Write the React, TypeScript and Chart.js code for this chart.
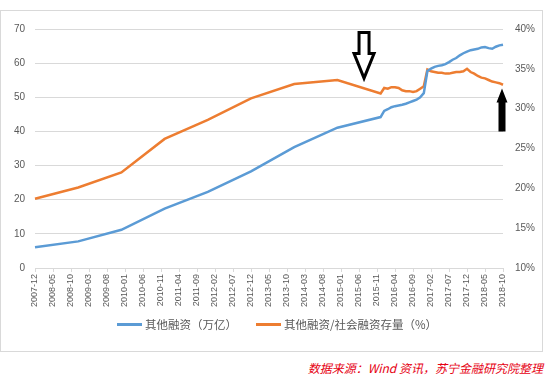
import React, { useEffect, useRef } from 'react';
import { Chart, registerables } from 'chart.js';

Chart.register(...registerables);

// ---- data ----
const firstYear = 2007;
const firstMonth = 12;
const monthCount = 131; // 2007-12 .. 2018-10
const tickEvery = 5;

const pointMonths = [
  '2007-12', '2008-12', '2009-12', '2010-12', '2011-12', '2012-12', '2013-12', '2014-12', '2015-12',
  '2016-01', '2016-02', '2016-03', '2016-04', '2016-05', '2016-06', '2016-07', '2016-08', '2016-09', '2016-10', '2016-11', '2016-12',
  '2017-01', '2017-02', '2017-03', '2017-04', '2017-05', '2017-06', '2017-07', '2017-08', '2017-09', '2017-10', '2017-11', '2017-12',
  '2018-01', '2018-02', '2018-03', '2018-04', '2018-05', '2018-06', '2018-07', '2018-08', '2018-09', '2018-10',
];

const otherFinancing = [
  6.1, 7.8, 11.2, 17.4, 22.3, 28.3, 35.4, 41.1, 44.2,
  46.0, 46.5, 47.1, 47.4, 47.6, 47.8, 48.1, 48.5, 48.9, 49.3, 50.0, 51.2,
  57.7, 58.4, 58.9, 59.2, 59.4, 59.7, 60.3, 61.0, 61.5, 62.3, 62.9, 63.4,
  63.8, 64.0, 64.2, 64.6, 64.7, 64.4, 64.2, 64.8, 65.2, 65.4,
];

const otherShare = [
  18.7, 20.1, 22.0, 26.2, 28.6, 31.3, 33.1, 33.6, 31.9,
  32.6, 32.5, 32.7, 32.7, 32.6, 32.3, 32.2, 32.2, 32.1, 32.2, 32.5, 32.8,
  34.9, 34.7, 34.6, 34.5, 34.5, 34.4, 34.4, 34.5, 34.6, 34.6, 34.7, 35.0,
  34.6, 34.4, 34.1, 33.9, 33.8, 33.6, 33.4, 33.3, 33.2, 33.0,
];

const seriesNames = ['其他融资（万亿）', '其他融资/社会融资存量（%）'];
const seriesColors = ['#5B9BD5', '#ED7D31'];
const leftRange = [0, 70, 10];
const rightRange = [10, 40, 5];
const sourceNote = '数据来源：Wind 资讯，苏宁金融研究院整理';

// ---- derived ----
const categories: string[] = [];
for (let i = 0; i < monthCount; i++) {
  const k = firstMonth - 1 + i;
  const yy = firstYear + Math.floor(k / 12);
  const mm = (k % 12) + 1;
  categories.push(`${yy}-${mm < 10 ? '0' + mm : mm}`);
}
const alignTo = (vals: number[]) =>
  categories.map((c) => {
    const j = pointMonths.indexOf(c);
    return j >= 0 ? vals[j] : null;
  });

const FONT = '"Liberation Sans", "Noto Sans CJK SC", sans-serif';
const CJK = '"Noto Sans CJK SC", "Liberation Sans", sans-serif';

const arrowPlugin = {
  id: 'handArrows',
  afterDatasetsDraw(chart: any) {
    const { ctx } = chart;
    const x = chart.scales.x;
    const y = chart.scales.y;
    ctx.save();
    // hollow down arrow
    const cx = x.getPixelForValue(91.4);
    const top = y.getPixelForValue(69);
    const neck = y.getPixelForValue(62.8);
    const tip = y.getPixelForValue(55.6);
    ctx.beginPath();
    ctx.moveTo(cx - 5, top);
    ctx.lineTo(cx + 5, top);
    ctx.lineTo(cx + 5, neck);
    ctx.lineTo(cx + 10, neck);
    ctx.lineTo(cx, tip);
    ctx.lineTo(cx - 10, neck);
    ctx.lineTo(cx - 5, neck);
    ctx.closePath();
    ctx.fillStyle = '#ffffff';
    ctx.fill();
    ctx.lineWidth = 3;
    ctx.lineJoin = 'miter';
    ctx.strokeStyle = '#000000';
    ctx.stroke();
    // filled up arrow
    const ax = x.getPixelForValue(130) - 1;
    const atip = y.getPixelForValue(52.6);
    const aneck = y.getPixelForValue(48.5);
    const abot = y.getPixelForValue(40);
    ctx.beginPath();
    ctx.moveTo(ax, atip);
    ctx.lineTo(ax + 5.5, aneck);
    ctx.lineTo(ax + 3.5, aneck);
    ctx.lineTo(ax + 3.5, abot);
    ctx.lineTo(ax - 3.5, abot);
    ctx.lineTo(ax - 3.5, aneck);
    ctx.lineTo(ax - 5.5, aneck);
    ctx.closePath();
    ctx.fillStyle = '#000000';
    ctx.fill();
    ctx.restore();
  },
};

export default function App() {
  const ref = useRef<HTMLCanvasElement>(null);

  useEffect(() => {
    const chart = new Chart(ref.current as HTMLCanvasElement, {
      type: 'line',
      data: {
        labels: categories,
        datasets: [
          {
            label: seriesNames[0],
            data: alignTo(otherFinancing),
            borderColor: seriesColors[0],
            backgroundColor: seriesColors[0],
            borderWidth: 2.5,
            pointRadius: 0,
            spanGaps: true,
            yAxisID: 'y',
            tension: 0,
          },
          {
            label: seriesNames[1],
            data: alignTo(otherShare),
            borderColor: seriesColors[1],
            backgroundColor: seriesColors[1],
            borderWidth: 2.5,
            pointRadius: 0,
            spanGaps: true,
            yAxisID: 'y1',
            tension: 0,
          },
        ],
      },
      options: {
        animation: false,
        responsive: true,
        maintainAspectRatio: false,
        layout: { padding: { top: 12, left: 0, right: 0, bottom: 0 } },
        plugins: { legend: { display: false }, tooltip: { enabled: false } },
        scales: {
          x: {
            type: 'category',
            offset: false,
            grid: { display: true, drawOnChartArea: false, drawTicks: true, tickLength: 4, color: '#d9d9d9' },
            border: { display: true, color: '#d9d9d9' },
            ticks: {
              autoSkip: false,
              minRotation: 90,
              maxRotation: 90,
              padding: 2,
              color: '#595959',
              font: { family: FONT, size: 9 },
              callback: (_v: any, i: number) => (i % tickEvery === 0 ? categories[i] : null),
            },
            afterFit: (s: any) => {
              s.height = 83;
            },
          },
          y: {
            position: 'left',
            min: leftRange[0],
            max: leftRange[1],
            grid: { color: '#d9d9d9', drawTicks: false },
            border: { display: false },
            ticks: { stepSize: leftRange[2], padding: 10, color: '#595959', font: { family: FONT, size: 10 } },
            afterFit: (s: any) => {
              s.width = 34;
            },
          },
          y1: {
            position: 'right',
            min: rightRange[0],
            max: rightRange[1],
            grid: { display: false, drawTicks: false },
            border: { display: false },
            ticks: {
              stepSize: rightRange[2],
              padding: 12,
              color: '#595959',
              font: { family: FONT, size: 10 },
              callback: (v: any) => v + '%',
            },
            afterFit: (s: any) => {
              s.width = 39;
            },
          },
        },
      },
      plugins: [arrowPlugin],
    } as any);
    return () => chart.destroy();
  }, []);

  const legendItem = (i: number, left: number) => (
    <div
      style={{
        position: 'absolute',
        left,
        top: 315,
        height: 18,
        display: 'flex',
        alignItems: 'center',
        whiteSpace: 'nowrap',
      }}
    >
      <span style={{ display: 'inline-block', width: 25, height: 3, background: seriesColors[i], marginRight: 3 }} />
      <span style={{ fontFamily: CJK, fontSize: 11.5, color: '#595959', lineHeight: '18px' }}>{seriesNames[i]}</span>
    </div>
  );

  return (
    <div style={{ position: 'absolute', left: 0, top: 0, width: 555, height: 378, background: '#ffffff', overflow: 'hidden' }}>
      <div style={{ position: 'absolute', left: 0, top: 10, width: 541, height: 340, border: '1px solid #d9d9d9' }}>
        <canvas ref={ref} />
      </div>
      {legendItem(0, 117)}
      {legendItem(1, 256)}
      <div
        style={{
          position: 'absolute',
          right: 12,
          top: 360,
          fontFamily: CJK,
          fontSize: 12,
          lineHeight: '16px',
          fontStyle: 'italic',
          color: '#e60012',
          whiteSpace: 'nowrap',
        }}
      >
        {sourceNote}
      </div>
    </div>
  );
}
